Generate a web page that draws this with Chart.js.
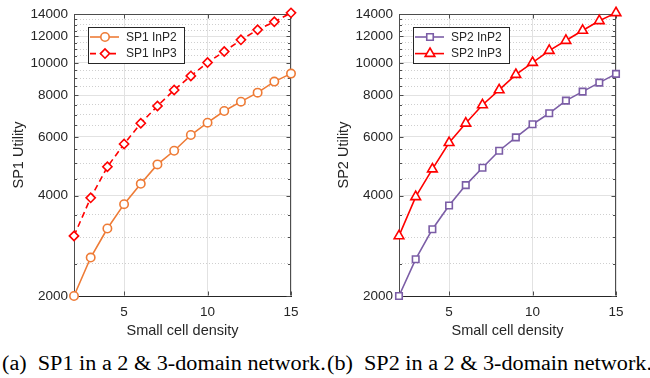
<!DOCTYPE html>
<html>
<head>
<meta charset="utf-8">
<script src="https://cdn.jsdelivr.net/npm/chart.js@4"></script>
<style>
  html, body { margin: 0; padding: 0; background: #fff; }
  #wrap { position: relative; width: 650px; height: 378px; overflow: hidden; }
  .panel { position: absolute; top: 0; width: 325px; height: 340px; }
  .cap { position: absolute; top: 351px; font-family: 'Liberation Serif', 'DejaVu Serif', serif;
         font-size: 20px; white-space: nowrap; color: #000; line-height: 24px;
         transform: scaleX(1.11); transform-origin: left center; }
</style>
</head>
<body>
<div id="wrap">
  <div class="panel" style="left:0"><canvas id="c1" width="325" height="340"></canvas></div>
  <div class="panel" style="left:325px"><canvas id="c2" width="325" height="340"></canvas></div>
  <div class="cap" style="left:2px">(a)&nbsp; SP1 in a 2 &amp; 3-domain network.</div>
  <div class="cap" style="left:327px">(b)&nbsp; SP2 in a 2 &amp; 3-domain network.</div>
</div>
<script>
// Small cell density (x) values
const density = [2, 3, 4, 5, 6, 7, 8, 9, 10, 11, 12, 13, 14, 15];

// Utility of SP1
const sp1InP2 = [2000, 2608, 3187, 3770, 4339, 4961, 5451, 6076, 6616, 7173, 7649, 8140, 8785, 9284];
const sp1InP3 = [3028, 3938, 4880, 5710, 6589, 7426, 8294, 9138, 10018, 10810, 11720, 12560, 13273, 14120];

// Utility of SP2
const sp2InP2 = [2000, 2578, 3172, 3737, 4300, 4846, 5451, 5980, 6543, 7060, 7702, 8197, 8724, 9265];
const sp2InP3 = [3028, 3966, 4803, 5761, 6589, 7477, 8294, 9222, 10018, 10884, 11664, 12500, 13366, 14120];

// Axis ticks
const xTicks = [5, 10, 15];
const yMajorTicks = [2000, 4000, 6000, 8000, 10000, 12000, 14000];
const yMinorTicks = [2500, 3000, 3500, 4500, 5000, 5500, 6500, 7000, 7500,
                     8500, 9000, 9500, 10500, 11000, 11500, 12500, 13000, 13500];

const SANS = "'Liberation Sans', Arial, sans-serif";
const TXT = '#262626';

function points(vals) {
  return density.map((x, i) => ({ x: x, y: vals[i] }));
}

// Axes box with inward tick marks
const framePlugin = {
  id: 'frame',
  beforeDatasetsDraw(chart) {
    const { ctx, chartArea: a, scales } = chart;
    ctx.save();
    ctx.strokeStyle = '#4d4d4d';
    ctx.lineWidth = 1;
    ctx.setLineDash([]);
    ctx.beginPath();
    const L = Math.round(a.left) + 0.5, R = Math.round(a.right) - 0.5;
    const T = Math.round(a.top) + 0.5, B = Math.round(a.bottom) - 0.5;
    ctx.moveTo(L, T); ctx.lineTo(R, T); ctx.lineTo(R, B);
    ctx.stroke();
    const y = scales.y;
    ctx.beginPath();
    yMajorTicks.forEach(v => {
      const p = Math.round(y.getPixelForValue(v)) + 0.5;
      ctx.moveTo(L, p); ctx.lineTo(L + 4, p);
      ctx.moveTo(R, p); ctx.lineTo(R - 4, p);
    });
    yMinorTicks.forEach(v => {
      const p = Math.round(y.getPixelForValue(v)) + 0.5;
      ctx.moveTo(L, p); ctx.lineTo(L + 2.5, p);
      ctx.moveTo(R, p); ctx.lineTo(R - 2.5, p);
    });
    const x = scales.x;
    xTicks.forEach(v => {
      const p = Math.round(x.getPixelForValue(v)) + 0.5;
      ctx.moveTo(p, B); ctx.lineTo(p, B - 4);
      ctx.moveTo(p, T); ctx.lineTo(p, T + 4);
    });
    ctx.stroke();
    ctx.restore();
  }
};

// Boxed legend in the upper-left corner of the plot area
const boxLegendPlugin = {
  id: 'boxLegend',
  afterDatasetsDraw(chart) {
    const { ctx, chartArea: a } = chart;
    const x0 = Math.round(a.left) + 14, y0 = Math.round(a.top) + 13, w = 96, h = 36;
    ctx.save();
    ctx.fillStyle = '#fff';
    ctx.fillRect(x0, y0, w, h);
    ctx.strokeStyle = '#262626';
    ctx.lineWidth = 1;
    ctx.strokeRect(x0 + 0.5, y0 + 0.5, w, h);
    chart.data.datasets.forEach((ds, i) => {
      const cy = y0 + 10 + i * 16.6;
      ctx.strokeStyle = ds.borderColor;
      ctx.lineWidth = ds.borderWidth;
      ctx.setLineDash(ds.borderDash || []);
      ctx.beginPath();
      ctx.moveTo(x0 + 2, cy);
      ctx.lineTo(x0 + 31, cy);
      ctx.stroke();
      ctx.setLineDash([]);
      ctx.fillStyle = ds.pointBackgroundColor;
      ctx.strokeStyle = ds.pointBorderColor;
      ctx.lineWidth = ds.pointBorderWidth;
      Chart.helpers.drawPoint(ctx, {
        pointStyle: ds.pointStyle, radius: ds.pointRadius,
        borderWidth: ds.pointBorderWidth, rotation: 0
      }, x0 + 17, cy);
      ctx.fillStyle = TXT;
      ctx.font = '12px ' + SANS;
      ctx.textBaseline = 'middle';
      ctx.textAlign = 'left';
      ctx.fillText(ds.label, x0 + 38, cy + 0.5);
    });
    ctx.restore();
  }
};

function series(label, vals, color, style, radius, dash) {
  return {
    label: label,
    data: points(vals),
    borderColor: color,
    backgroundColor: color,
    borderWidth: 1.6,
    borderDash: dash || [],
    pointStyle: style,
    pointRadius: radius,
    pointHoverRadius: radius,
    pointBorderWidth: 1.6,
    pointBorderColor: color,
    pointBackgroundColor: '#fff',
    tension: 0,
    clip: false,
    yAxisID: 'y'
  };
}

function makePanel(id, yTitle, datasets) {
  new Chart(document.getElementById(id), {
    type: 'line',
    data: { datasets: datasets },
    options: {
      responsive: false,
      animation: false,
      events: [],
      layout: { padding: { left: 0, top: 14, right: 34, bottom: 0 } },
      plugins: { legend: { display: false }, tooltip: { enabled: false } },
      scales: {
        x: {
          type: 'linear', min: 2, max: 15,
          afterBuildTicks: s => { s.ticks = xTicks.map(v => ({ value: v })); },
          afterFit: s => { s.height = 44; },
          ticks: { color: TXT, font: { family: SANS, size: 13.5 }, padding: 8, autoSkip: false, maxRotation: 0 },
          grid: { color: '#e2e2e2', lineWidth: 1, drawTicks: false },
          border: { color: '#262626', width: 1 },
          title: { display: true, text: 'Small cell density', color: TXT,
                   font: { family: SANS, size: 14.5 }, padding: { top: 0, bottom: 0 } }
        },
        y: {
          type: 'logarithmic', position: 'left', min: 2000, max: 14000,
          afterBuildTicks: s => { s.ticks = yMajorTicks.map(v => ({ value: v })); },
          afterFit: s => { s.width = 74; },
          ticks: { color: TXT, font: { family: SANS, size: 13.5 }, padding: 6, autoSkip: false,
                   callback: v => String(v) },
          grid: { color: '#e2e2e2', lineWidth: 1, drawTicks: false },
          border: { color: '#4d4d4d', width: 1 },
          title: { display: true, text: yTitle, color: TXT,
                   font: { family: SANS, size: 14.5 }, padding: { top: 10, bottom: 0 } }
        },
        yMinor: {
          type: 'logarithmic', position: 'right', min: 2000, max: 14000,
          afterBuildTicks: s => { s.ticks = yMinorTicks.map(v => ({ value: v })); },
          afterFit: s => { s.width = 0; },
          ticks: { display: false },
          grid: { color: '#cfcfcf', lineWidth: 1, drawTicks: false },
          border: { display: false, dash: [1, 2] }
        }
      }
    },
    plugins: [framePlugin, boxLegendPlugin]
  });
}

makePanel('c1', 'SP1 Utility', [
  series('SP1 InP2', sp1InP2, '#EE7B36', 'circle', 4.2),
  series('SP1 InP3', sp1InP3, '#FF0000', 'rectRot', 4.6, [6, 4])
]);

makePanel('c2', 'SP2 Utility', [
  series('SP2 InP2', sp2InP2, '#7B5DA6', 'rect', 4.6),
  series('SP2 InP3', sp2InP3, '#FF0000', 'triangle', 5.6)
]);
</script>
</body>
</html>
